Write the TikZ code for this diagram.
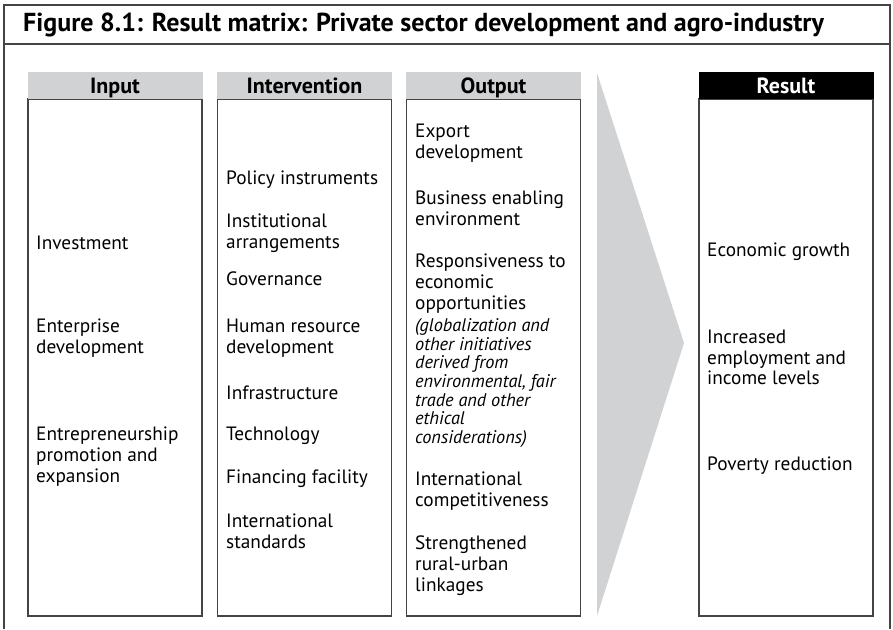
\documentclass[tikz,border=0pt]{standalone}
\usepackage{fontspec}
\setmainfont{PT Sans}
\usetikzlibrary{positioning}
\definecolor{hdrgray}{RGB}{209,210,212}
\definecolor{linegray}{RGB}{68,68,68}
\tikzset{
  hdr/.style={fill=hdrgray, minimum width=175pt, minimum height=27pt, inner sep=0pt, text height=15pt, text depth=0pt, font=\fontsize{22}{24}\selectfont\bfseries},
  colbox/.style={draw=linegray, line width=1.2pt, minimum width=174pt, minimum height=517pt, inner sep=0pt},
  item/.style={anchor=west, align=left, inner sep=0pt, font=\fontsize{19.3}{20.8}\selectfont},
  note/.style={item, font=\fontsize{18.3}{18.6}\selectfont\itshape},
}
\begin{document}
\begin{tikzpicture}[x=1pt, y=-1pt]
\useasboundingbox (0,0) rectangle (893,629);
% frame and title
\draw[linegray, line width=1.5pt] (4,629) -- (4,5) -- (890,5) -- (890,629);
\draw[linegray, line width=1.5pt] (4,44) -- (890,44);
\node[anchor=west, inner sep=0pt, font=\fontsize{26}{28}\selectfont\bfseries] (title) at (23,24.5) {Figure 8.1: Result matrix: Private sector development and agro-industry};
% arrow between output and result
\fill[hdrgray] (597,73) -- (684,343) -- (597,616) -- cycle;
% columns
\node[colbox] (inbox) at (115,357.5) {};
\node[colbox] (intbox) at (304.5,357.5) {};
\node[colbox] (outbox) at (493.5,357.5) {};
\node[colbox] (resbox) at (786,357.5) {};
\node[hdr] (inhdr) at (115,85.5) {Input};
\node[hdr] (inthdr) at (304.5,85.5) {Intervention};
\node[hdr] (outhdr) at (493.5,85.5) {Output};
\node[hdr, fill=black, text=white] (reshdr) at (786,85.5) {Result};
% input
\node[item] (invest) at (36,243) {Investment};
\node[item] (entdev) at (36,338) {Enterprise\\development};
\node[item] (entpro) at (36,456.5) {Entrepreneurship\\promotion and\\expansion};
% intervention
\node[item] (policy) at (226,179.5) {Policy instruments};
\node[item] (instit) at (226,233) {Institutional\\arrangements};
\node[item] (govern) at (226,278.5) {Governance};
\node[item] (human) at (226,338) {Human resource\\development};
\node[item] (infra) at (226,392.5) {Infrastructure};
\node[item] (techn) at (226,435.5) {Technology};
\node[item] (finance) at (226,478.5) {Financing facility};
\node[item] (standard) at (226,531) {International\\standards};
% output
\node[item] (export) at (415,143) {Export\\development};
\node[item] (business) at (415,208) {Business enabling\\environment};
\node[item] (respons) at (415,283.5) {Responsiveness to\\economic\\opportunities};
\node[note] (globnote) at (415,383) {(globalization and\\other initiatives\\derived from\\environmental, fair\\trade and other\\ethical\\considerations)};
\node[item] (compet) at (415,491) {International\\competitiveness};
\node[item] (rural) at (415,565.5) {Strengthened\\rural-urban\\linkages};
% result
\node[item] (growth) at (707,251.5) {Economic growth};
\node[item] (employ) at (707,357.5) {Increased\\employment and\\income levels};
\node[item] (poverty) at (707,465.5) {Poverty reduction};
\end{tikzpicture}
\end{document}
